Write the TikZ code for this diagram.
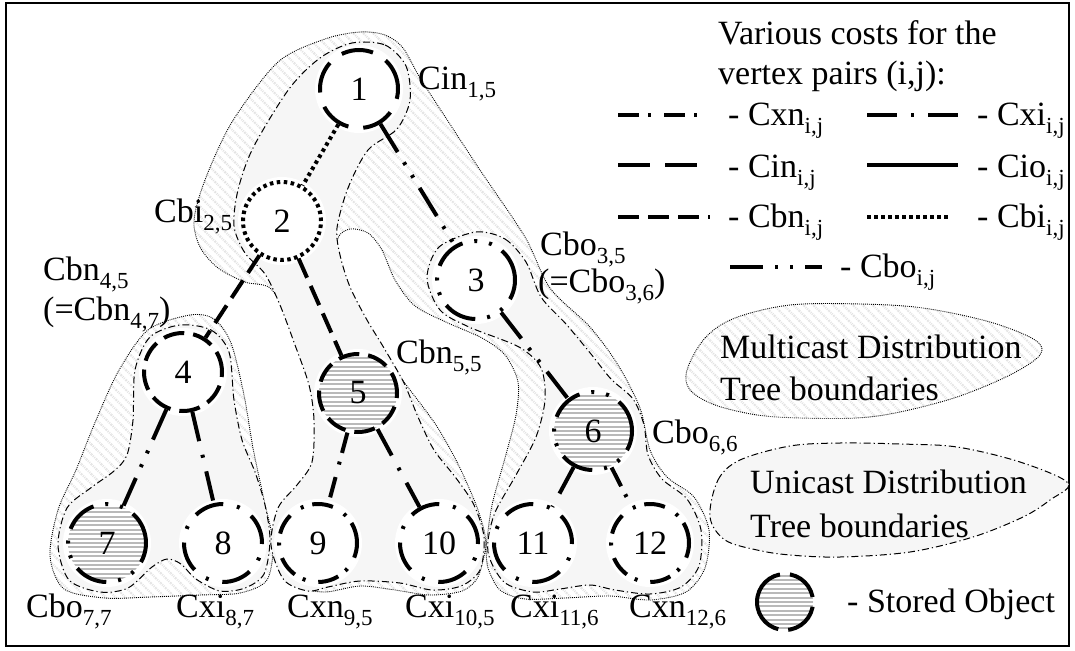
\documentclass[tikz,border=0pt]{standalone}
\usepackage{fontspec}
\setmainfont{Liberation Serif}
\usetikzlibrary{patterns.meta}
\newcommand{\ix}[1]{\raisebox{-8pt}[0pt][0pt]{\fontsize{23}{23}\selectfont #1}}
\tikzset{
  cxn/.style={line width=4pt, dash pattern=on 21pt off 9pt on 3pt off 13pt},
  cxi/.style={line width=4pt, dash pattern=on 30pt off 14pt on 3pt off 14pt},
  cin/.style={line width=4pt, dash pattern=on 32pt off 15pt},
  cio/.style={line width=4pt},
  cbn/.style={line width=4pt, dash pattern=on 21pt off 9pt},
  cbi/.style={line width=4pt, dash pattern=on 3.5pt off 3.5pt},
  cbo/.style={line width=4pt, dash pattern=on 33pt off 12pt on 3pt off 12pt on 3pt off 12pt},
  vertex/.style={draw, circle, fill=white, minimum size=78pt, inner sep=0pt, font=\fontsize{34}{34}\selectfont},
  % horizontal stripes of a stored object
  stored/.style={path picture={
    \foreach \k in {-10,...,10}
      \draw[gray!55, line width=2pt, solid]
        ([shift={(-50pt,\k*4.4pt)}]path picture bounding box.center) -- +(100pt,0pt);}},
  cost/.style={anchor=base west, inner sep=0pt, font=\fontsize{34}{40}\selectfont},
  multicast/.style={preaction={fill=white}, pattern={Lines[angle=-45, distance=7pt, line width=2.2pt]}, pattern color=gray!22,
    draw, line width=0.9pt, dash pattern=on 0.9pt off 1.1pt},
  unicast/.style={fill=gray!7, draw, line width=1pt, dash pattern=on 7pt off 3pt on 1.2pt off 3pt}
}

\begin{document}
\begin{tikzpicture}[x=1pt, y=-1pt]
  \useasboundingbox (0,0) rectangle (1075,650);
  \draw[line width=2.5pt] (6,3) rectangle (1069,646);

  % multicast tree 1: both branches below vertex 1, open pocket in between
  \path[multicast] plot[smooth, tension=.5] coordinates {
      (486,547) (478,577) (462,591) (430,595) (395,590) (360,586) (325,592) (298,586)
      (283,562) (283,525) (298,492) (315,455) (316,410) (305,360) (288,318) (270,288)
      (245,282) (218,268) (200,247) (194,220) (205,180) (232,122) (278,62) (325,39)
      (360,32) (385,35) (403,48) (420,78) (442,112) (480,170) (525,237) (550,288)
      (590,327) (618,365) (640,408) (650,450) (667,477) (694,497) (709,530) (705,568)
      (686,592) (650,600) (610,596) (565,598) (525,599) (500,590) (488,568) (486,547)}
    -- plot[smooth, tension=.5] coordinates {
      (486,547) (492,505) (505,458) (516,415) (518,382) (505,355) (482,338) (448,323)
      (415,306) (395,280) (382,250) (368,233) (350,229) (338,238) (336,268) (346,298)
      (362,328) (381,352) (410,390) (436,425) (457,462) (475,502) (484,530) (486,547)}
    -- cycle;
  % multicast tree 2: vertices 4, 7, 8
  \path[multicast] plot[smooth cycle, tension=.5] coordinates {
      (190,315) (214,319) (231,343) (244,395) (253,448) (264,500) (273,543) (267,580)
      (240,593) (200,595) (150,597) (105,598) (64,589) (50,556) (58,510) (76,470)
      (94,425) (118,372) (148,330)};

  % unicast trees
  \path[unicast] plot[smooth cycle, tension=.5] coordinates {
      (352,43) (385,45) (406,66) (410,100) (397,129) (368,150) (348,188) (337,228)
      (340,255) (350,287) (367,320) (384,348) (404,383) (418,417) (434,450) (456,478)
      (474,505) (484,537) (480,570) (461,586) (432,590) (400,583) (360,581) (328,587)
      (308,591) (284,580) (271,545) (278,508) (297,485) (312,462) (314,420) (309,385)
      (295,345) (280,305) (265,274) (245,253) (234,226) (238,190) (253,148) (289,89)
      (320,58)};
  \path[unicast] plot[smooth cycle, tension=.5] coordinates {
      (476,232) (505,239) (526,262) (541,297) (566,324) (591,354) (611,379) (633,399)
      (644,425) (648,455) (662,479) (687,499) (701,530) (699,566) (681,587) (650,594)
      (615,590) (590,585) (560,589) (533,592) (504,582) (488,552) (494,515) (516,475)
      (536,437) (545,400) (541,368) (519,347) (469,327) (440,310) (427,278) (439,247)};
  \path[unicast] plot[smooth cycle, tension=.5] coordinates {
      (180,325) (211,330) (229,352) (234,400) (242,440) (255,472) (265,505) (270,540)
      (264,574) (245,588) (220,591) (196,579) (181,564) (167,559) (152,567) (128,588)
      (100,592) (69,580) (58,545) (67,508) (92,487) (114,471) (127,455) (133,420)
      (135,370) (150,337)};

  % vertices
  \foreach \p in {(359,89), (282,221), (476,280), (183,372), (358,393), (593,431),
      (107,543), (223,543), (318,543), (439,543), (533,543), (650,543)}
    \fill[white] \p circle[radius=44pt];
  \node[vertex, cin] (n1) at (359,89) {1};
  \node[vertex, cbi] (n2) at (282,221) {2};
  \node[vertex, cbo] (n3) at (476,280) {3};
  \node[vertex, cbn] (n4) at (183,372) {4};
  \node[vertex, cbn, stored] (n5) at (358,393) {5};
  \node[vertex, cbo, stored] (n6) at (593,431) {6};
  \node[vertex, cbo, stored] (n7) at (107,543) {7};
  \node[vertex, cxi] (n8) at (223,543) {8};
  \node[vertex, cxn] (n9) at (318,543) {9};
  \node[vertex, cxi] (n10) at (439,543) {10};
  \node[vertex, cxi] (n11) at (533,543) {11};
  \node[vertex, cxn] (n12) at (650,543) {12};

  \draw[cbi] (n1) -- (n2);
  \draw[cbo] (n1) -- (n3);
  \draw[cbn] (n2) -- (n4);
  \draw[cbn] (n2) -- (n5);
  \draw[cbo] (n3) -- (n6);
  \draw[cbo] (n4) -- (n7);
  \draw[cxi] (n4) -- (n8);
  \draw[cxn] (n5) -- (n9);
  \draw[cxi] (n5) -- (n10);
  \draw[cxi] (n6) -- (n11);
  \draw[cxn] (n6) -- (n12);

  % cost labels
  \node[cost] (c15) at (418,90) {Cin\ix{1,5}};
  \node[cost] (c25) at (154,222) {Cbi\ix{2,5}};
  \node[cost] (c35) at (540,255) {Cbo\ix{3,5}};
  \node[cost] (c36) at (538,292) {(=Cbo\ix{3,6})};
  \node[cost] (c45) at (43,280) {Cbn\ix{4,5}};
  \node[cost] (c47) at (43,320) {(=Cbn\ix{4,7})};
  \node[cost] (c55) at (396,363) {Cbn\ix{5,5}};
  \node[cost] (c66) at (652,443) {Cbo\ix{6,6}};
  \node[cost] (c77) at (26,617) {Cbo\ix{7,7}};
  \node[cost] (c87) at (176,617) {Cxi\ix{8,7}};
  \node[cost] (c95) at (287,617) {Cxn\ix{9,5}};
  \node[cost] (c105) at (405,617) {Cxi\ix{10,5}};
  \node[cost] (c116) at (510,617) {Cxi\ix{11,6}};
  \node[cost] (c126) at (629,617) {Cxn\ix{12,6}};

  % legend
  \node[cost] (head1) at (718,45) {Various costs for the};
  \node[cost] (head2) at (718,85) {vertex pairs (i,j):};
  \coordinate (sxn) at (618,115);
  \coordinate (sin) at (618,165);
  \coordinate (sbn) at (618,217);
  \coordinate (sxi) at (867,115);
  \coordinate (sio) at (867,165);
  \coordinate (sbi) at (867,217);
  \coordinate (sbo) at (730,267);
  \draw[cxn] (sxn) -- +(83,0);
  \draw[cin] (sin) -- +(82,0);
  \draw[cbn] (sbn) -- +(92,0);
  \draw[cxi] (sxi) -- +(91,0);
  \draw[cio] (sio) -- +(91,0);
  \draw[cbi] (sbi) -- +(84,0);
  \draw[cbo] (sbo) -- +(92,0);
  \node[cost] (kxn) at (728,125) {- Cxn\ix{i,j}};
  \node[cost] (kin) at (728,177) {- Cin\ix{i,j}};
  \node[cost] (kbn) at (728,227) {- Cbn\ix{i,j}};
  \node[cost] (kxi) at (977,125) {- Cxi\ix{i,j}};
  \node[cost] (kio) at (977,177) {- Cio\ix{i,j}};
  \node[cost] (kbi) at (977,227) {- Cbi\ix{i,j}};
  \node[cost] (kbo) at (840,277) {- Cbo\ix{i,j}};

  \path[multicast] plot[smooth cycle, tension=.55] coordinates {
      (687,370) (705,338) (735,318) (790,305) (860,304) (923,308) (990,322) (1035,340)
      (1040,355) (1010,375) (957,397) (900,412) (857,418) (800,418) (757,415) (715,405)
      (690,390)};
  \node[cost] (mc1) at (720,358) {Multicast Distribution};
  \node[cost] (mc2) at (720,400) {Tree boundaries};
  \path[unicast] plot[smooth cycle, tension=.55] coordinates {
      (710,517) (718,480) (740,460) (790,446) (840,443) (900,444) (957,447) (1020,462)
      (1068,483) (1050,500) (1023,517) (973,537) (910,552) (840,557) (790,555) (757,550)
      (725,540)};
  \node[cost] (uc1) at (750,493) {Unicast Distribution};
  \node[cost] (uc2) at (750,537) {Tree boundaries};

  \node[vertex, stored, line width=4pt, minimum size=56pt,
    dash pattern=on 34pt off 10pt on 76pt off 10pt on 36pt off 10pt, dash phase=171pt] (key) at (785,602) {};
  \node[cost] (kst) at (847,612) {- Stored Object};
\end{tikzpicture}
\end{document}
